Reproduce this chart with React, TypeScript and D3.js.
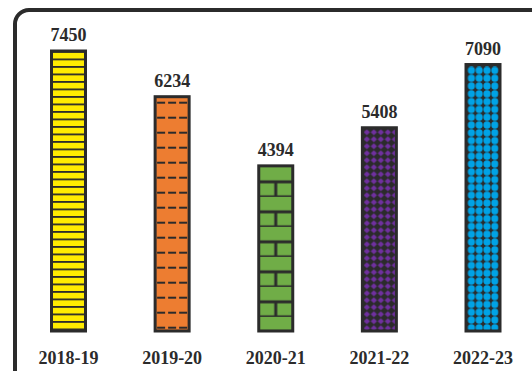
import React from "react";
import * as d3 from "d3";

const categories = ["2018-19", "2019-20", "2020-21", "2021-22", "2022-23"];
const values = [7450, 6234, 4394, 5408, 7090];
const fills = ["#FFEC00", "#ED7D31", "#70AD47", "#7030A0", "#00A3E6"];
const patternIds = ["pYellow", "pOrange", "pGreen", "pPurple", "pBlue"];

const W = 532;
const H = 371;
const DARK = "#2b2b2b";

export default function App() {
  React.useEffect(() => {
    document.body.style.margin = "0";
  }, []);
  const x = d3.scalePoint<string>().domain(categories).range([68.5, 483]);
  const y = d3.scaleLinear().domain([0, d3.max(values) as number]).range([331, 51]);
  const bw = 34;
  const font = "'Liberation Serif', 'Times New Roman', serif";

  return (
    <svg width={W} height={H} style={{ position: "absolute", left: 0, top: 0, background: "#fff" }}>
      <defs>
        <pattern id="pYellow" patternUnits="userSpaceOnUse" width={10} height={7.5} y={y(values[0])}>
          <rect width={10} height={7.5} fill={fills[0]} />
          <rect y={0} width={10} height={1.8} fill={DARK} />
        </pattern>
        <pattern id="pOrange" patternUnits="userSpaceOnUse" width={11} height={15}
          x={(x(categories[1]) as number) - bw / 2 + 2} y={y(values[1]) + 5}>
          <rect width={11} height={15} fill={fills[1]} />
          <rect x={0} y={0} width={8} height={2} fill={DARK} />
        </pattern>
        <pattern id="pGreen" patternUnits="userSpaceOnUse" width={bw} height={30}
          x={(x(categories[2]) as number) - bw / 2} y={y(values[2]) + 1}>
          <rect width={bw} height={30} fill={fills[2]} />
          <rect y={13.5} width={bw} height={3} fill={DARK} />
          <rect y={28.5} width={bw} height={3} fill={DARK} />
          <rect x={bw / 2 - 1.5} y={15} width={3} height={15} fill={DARK} />
        </pattern>
        <pattern id="pPurple" patternUnits="userSpaceOnUse" width={7} height={7}
          x={(x(categories[3]) as number) - bw / 2 + 1} y={y(values[3]) + 1}>
          <rect width={7} height={7} fill={DARK} />
          <path d="M3.5,0.4 L6.6,3.5 L3.5,6.6 L0.4,3.5 Z" fill={fills[3]} />
        </pattern>
        <pattern id="pBlue" patternUnits="userSpaceOnUse" width={7.8} height={7.8}
          x={(x(categories[4]) as number) - bw / 2 + 1.5} y={y(values[4]) + 2}>
          <rect width={7.8} height={7.8} fill={DARK} />
          <circle cx={3.9} cy={3.9} r={3.55} fill={fills[4]} />
        </pattern>
      </defs>

      <rect x={15} y={10} width={620} height={500} rx={14} ry={14} fill="none" stroke={DARK} strokeWidth={4} />

      {categories.map((c, i) => {
        const cx = x(c) as number;
        const top = y(values[i]);
        return (
          <g key={c}>
            <rect x={cx - bw / 2} y={top} width={bw} height={y(0) - top}
              fill={`url(#${patternIds[i]})`} stroke={DARK} strokeWidth={3} />
            <text x={cx} y={top - 10} textAnchor="middle" fontFamily={font} fontWeight="bold"
              fontSize={18} fill={DARK}>{values[i]}</text>
            <text x={cx} y={364} textAnchor="middle" fontFamily={font} fontWeight="bold"
              fontSize={18} fill={DARK}>{c}</text>
          </g>
        );
      })}
    </svg>
  );
}
